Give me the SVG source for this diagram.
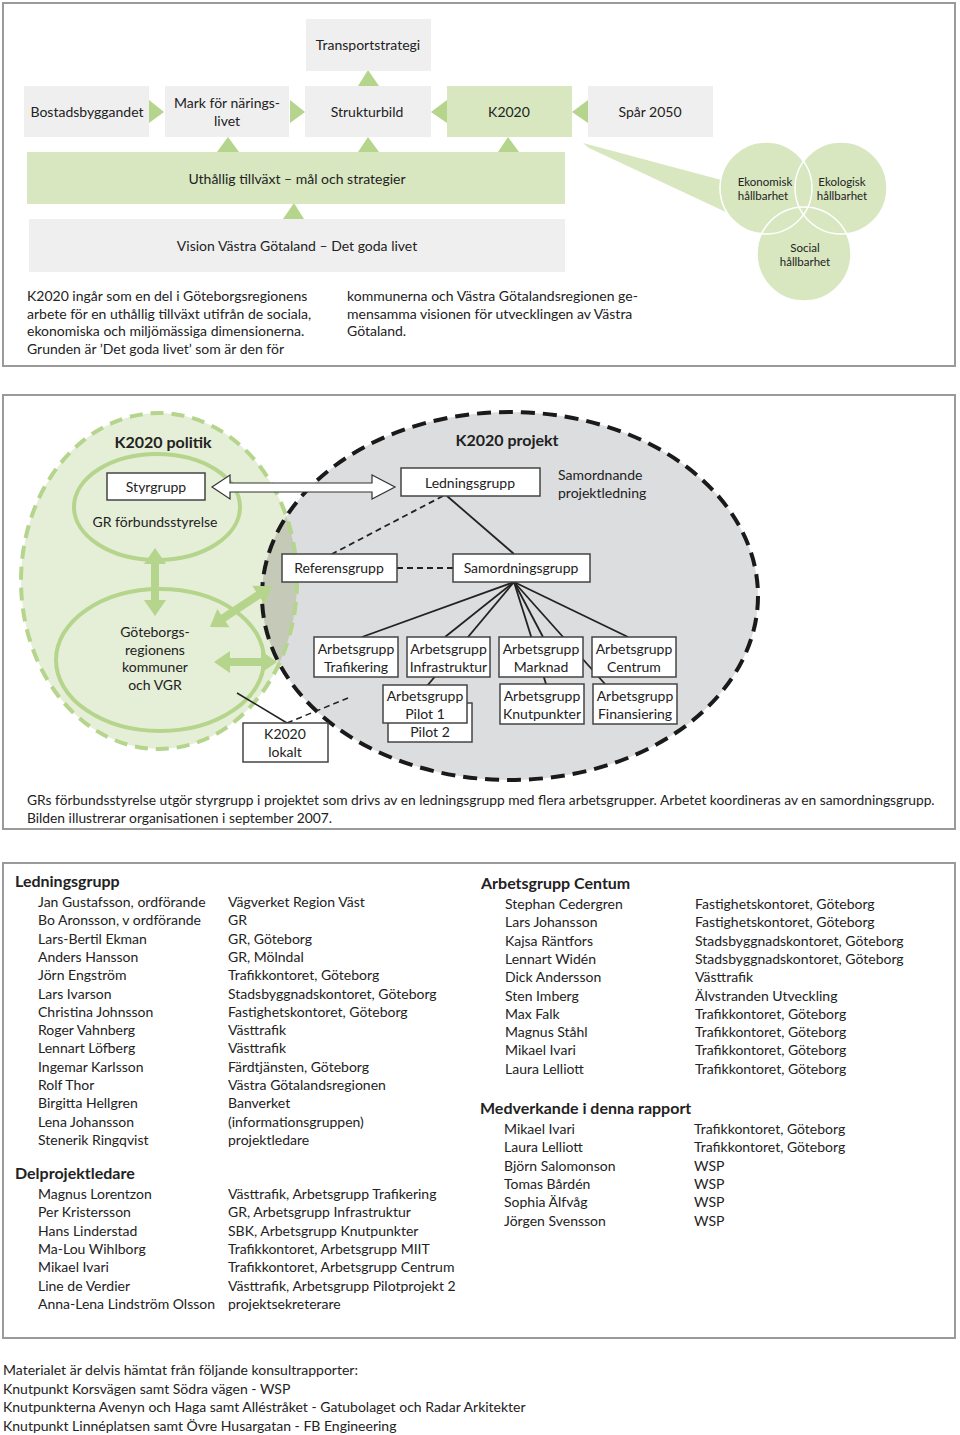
<svg xmlns="http://www.w3.org/2000/svg" width="960" height="1435" viewBox="0 0 960 1435">
<style>
text{font-family:Lato,"Open Sans","Liberation Sans",sans-serif;fill:#222;font-size:14px}
.c{text-anchor:middle}
.b{font-weight:bold;font-size:16px}
.s{font-size:14px}
.cap{font-size:13.8px}
.cs{font-size:11.5px;text-anchor:middle}
.frame{fill:#fff;stroke:#9a9a9a;stroke-width:2}
.gbox{fill:#efefef}
.lg{fill:#d8e7c0}
.tri{fill:#b5d48c}
.wb{fill:#fff;stroke:#444;stroke-width:1.5}
.ln{stroke:#222;stroke-width:1.8;fill:none}
.dl{stroke:#222;stroke-width:1.8;fill:none;stroke-dasharray:6 4}
.ga{fill:#b5d48c}
</style>
<defs>
<clipPath id="grayClip"><ellipse cx="510" cy="596" rx="248" ry="184"/></clipPath>
</defs>
<rect width="960" height="1435" fill="#fff"/>

<!-- ============ FRAME 1 ============ -->
<rect class="frame" x="3" y="3" width="952" height="363"/>

<g id="connectors-top">
<polygon class="tri" points="358,86 379,86 368,70"/>
<polygon class="tri" points="149,100 149,123 164,112"/>
<polygon class="tri" points="290,100 290,123 305,112"/>
<polygon class="tri" points="447,100 447,123 431,112"/>
<polygon class="tri" points="588,100 588,123 572,112"/>
<polygon class="tri" points="217,152 239,152 228,137"/>
<polygon class="tri" points="358,152 379,152 368,137"/>
<polygon class="tri" points="498,152 519,152 508,137"/>
<polygon class="tri" points="283,219 304,219 294,203"/>
<polygon class="lg" points="583,143 740,185 745,221 589,148"/>
</g>

<g id="transportstrategi"><rect class="gbox" x="306" y="19" width="125" height="52"/><text class="c" x="368" y="50">Transportstrategi</text></g>
<g id="bostadsbyggandet"><rect class="gbox" x="24" y="86" width="125" height="51"/><text class="c" x="87" y="117">Bostadsbyggandet</text></g>
<g id="mark"><rect class="gbox" x="165" y="86" width="124" height="51"/><text class="c" x="227" y="108">Mark för närings-</text><text class="c" x="227" y="126">livet</text></g>
<g id="strukturbild"><rect class="gbox" x="305" y="86" width="126" height="51"/><text class="c" x="367" y="117">Strukturbild</text></g>
<g id="k2020"><rect class="lg" x="447" y="86" width="125" height="51"/><text class="c" x="509" y="117">K2020</text></g>
<g id="spar2050"><rect class="gbox" x="588" y="86" width="125" height="51"/><text class="c" x="650" y="117">Spår 2050</text></g>
<g id="uthallig"><rect class="lg" x="27" y="152" width="538" height="52"/><text class="c" x="297" y="184">Uthållig tillväxt – mål och strategier</text></g>
<g id="vision"><rect class="gbox" x="29" y="219" width="536" height="53"/><text class="c" x="297" y="251">Vision Västra Götaland – Det goda livet</text></g>

<g id="hallbarhet">
<circle cx="766" cy="188" r="46" fill="#d8e7c0"/>
<circle cx="841" cy="188" r="46" fill="#d8e7c0"/>
<circle cx="804" cy="254" r="47" fill="#d8e7c0"/>
<circle cx="766" cy="188" r="46" fill="none" stroke="#fff" stroke-width="1.5"/>
<circle cx="841" cy="188" r="46" fill="none" stroke="#fff" stroke-width="1.5"/>
<circle cx="804" cy="254" r="47" fill="none" stroke="#fff" stroke-width="1.5"/>
<text class="cs" x="765" y="186">Ekonomisk</text><text class="cs" x="763" y="200">hållbarhet</text>
<text class="cs" x="842" y="186">Ekologisk</text><text class="cs" x="842" y="200">hållbarhet</text>
<text class="cs" x="805" y="252">Social</text><text class="cs" x="805" y="266">hållbarhet</text>
</g>

<g id="intro-text">
<text class="s" x="27" y="301">K2020 ingår som en del i Göteborgsregionens</text>
<text class="s" x="27" y="318.5">arbete för en uthållig tillväxt utifrån de sociala,</text>
<text class="s" x="27" y="336">ekonomiska  och miljömässiga dimensionerna.</text>
<text class="s" x="27" y="353.5">Grunden är ’Det goda livet’ som är den för</text>
<text class="s" x="347" y="301">kommunerna och Västra Götalandsregionen ge-</text>
<text class="s" x="347" y="318.5">mensamma visionen för utvecklingen av Västra</text>
<text class="s" x="347" y="336">Götaland.</text>
</g>

<!-- ============ FRAME 2 ============ -->
<rect class="frame" x="3" y="395" width="952" height="434"/>

<g id="areas">
<ellipse cx="159" cy="581" rx="138" ry="168" fill="#e5eed7"/>
<ellipse cx="510" cy="596" rx="248" ry="184" fill="#dcdddf"/>
<ellipse cx="159" cy="581" rx="138" ry="168" fill="#c4cab7" clip-path="url(#grayClip)"/>
<ellipse cx="159" cy="581" rx="138" ry="168" fill="none" stroke="#b5d48c" stroke-width="4" stroke-dasharray="13 8"/>
<ellipse cx="510" cy="596" rx="248" ry="184" fill="none" stroke="#1a1a1a" stroke-width="4" stroke-dasharray="14 8"/>
<ellipse cx="157" cy="507" rx="83" ry="53" fill="none" stroke="#b5d48c" stroke-width="4"/>
<ellipse cx="160" cy="660" rx="104" ry="71" fill="none" stroke="#b5d48c" stroke-width="4"/>
<text class="b c" x="163" y="448">K2020 politik</text>
<text class="b c" x="507" y="446">K2020 projekt</text>
<text class="c" x="155" y="527">GR förbundsstyrelse</text>
<text x="558" y="480">Samordnande</text>
<text x="558" y="498">projektledning</text>
<text class="c" x="155" y="637">Göteborgs-</text>
<text class="c" x="155" y="655">regionens</text>
<text class="c" x="155" y="672">kommuner</text>
<text class="c" x="155" y="690">och VGR</text>
</g>

<g id="connectors">
<polygon points="212,487 230,475 230,483 372,483 372,475 395,487 372,499 372,492 230,492 230,499" fill="#fff" stroke="#333" stroke-width="1.2"/>
<line class="dl" x1="443" y1="496" x2="332" y2="554"/>
<line class="ln" x1="447" y1="496" x2="514" y2="554"/>
<line class="dl" x1="397" y1="568" x2="453" y2="568"/>
<line class="ln" x1="514" y1="582" x2="362" y2="637"/>
<line class="ln" x1="514" y1="582" x2="445" y2="637"/>
<line class="ln" x1="514" y1="582" x2="427" y2="686"/>
<line class="ln" x1="514" y1="582" x2="543" y2="637"/>
<line class="ln" x1="514" y1="582" x2="546" y2="684"/>
<line class="ln" x1="514" y1="582" x2="605" y2="684"/>
<line class="ln" x1="514" y1="582" x2="628" y2="637"/>
<line x1="237" y1="693" x2="287" y2="723" stroke="#222" stroke-width="1.5"/>
<line x1="287" y1="723" x2="348" y2="698" stroke="#222" stroke-width="1.5" stroke-dasharray="6 4"/>
<polygon class="ga" points="155,548 166,564 159,564 159,600 166,600 155,616 144,600 151,600 151,564 144,564"/>
<polygon class="ga" points="214,662 230,651 230,658 261,658 261,651 277,662 261,673 261,666 230,666 230,673"/>
<polygon class="ga" transform="translate(210,627) rotate(-33.5)" points="0,0 16,-11 16,-4 58,-4 58,-11 74,0 58,11 58,4 16,4 16,11"/>
</g>

<g id="styrgrupp"><rect class="wb" x="107" y="473" width="98" height="27"/><text class="c" x="156" y="492">Styrgrupp</text></g>
<g id="ledningsgrupp"><rect class="wb" x="401" y="468" width="139" height="28"/><text class="c" x="470" y="488">Ledningsgrupp</text></g>
<g id="referensgrupp"><rect class="wb" x="282" y="554" width="115" height="28"/><text class="c" x="339" y="573">Referensgrupp</text></g>
<g id="samordningsgrupp"><rect class="wb" x="453" y="554" width="137" height="28"/><text class="c" x="521" y="573">Samordningsgrupp</text></g>
<g id="ag-trafikering"><rect class="wb" x="314" y="637" width="84" height="40"/><text class="c" x="356" y="654">Arbetsgrupp</text><text class="c" x="356" y="672">Trafikering</text></g>
<g id="ag-infrastruktur"><rect class="wb" x="407" y="637" width="83" height="40"/><text class="c" x="448.5" y="654">Arbetsgrupp</text><text class="c" x="448.5" y="672">Infrastruktur</text></g>
<g id="ag-marknad"><rect class="wb" x="499" y="637" width="84" height="40"/><text class="c" x="541" y="654">Arbetsgrupp</text><text class="c" x="541" y="672">Marknad</text></g>
<g id="ag-centrum"><rect class="wb" x="592" y="637" width="84" height="40"/><text class="c" x="634" y="654">Arbetsgrupp</text><text class="c" x="634" y="672">Centrum</text></g>
<g id="pilot2"><rect class="wb" x="388" y="703" width="84" height="39"/><text class="c" x="430" y="737">Pilot 2</text></g>
<g id="pilot1"><rect class="wb" x="383" y="685" width="84" height="38"/><text class="c" x="425" y="701">Arbetsgrupp</text><text class="c" x="425" y="719">Pilot 1</text></g>
<g id="ag-knutpunkter"><rect class="wb" x="500" y="684" width="84" height="40"/><text class="c" x="542" y="701">Arbetsgrupp</text><text class="c" x="542" y="719">Knutpunkter</text></g>
<g id="ag-finansiering"><rect class="wb" x="593" y="684" width="84" height="40"/><text class="c" x="635" y="701">Arbetsgrupp</text><text class="c" x="635" y="719">Finansiering</text></g>
<g id="k2020-lokalt"><rect class="wb" x="243" y="723" width="85" height="39"/><text class="c" x="285" y="739">K2020</text><text class="c" x="285" y="757">lokalt</text></g>

<g id="caption">
<text class="cap" x="27" y="805">GRs förbundsstyrelse utgör styrgrupp i projektet som drivs av en ledningsgrupp med flera arbetsgrupper. Arbetet koordineras av en samordningsgrupp.</text>
<text class="cap" x="27" y="822.5">Bilden illustrerar organisationen i september 2007.</text>
</g>

<!-- ============ FRAME 3 ============ -->
<rect class="frame" x="3" y="863" width="952" height="475"/>

<g id="lists">
<text class="b" x="15" y="887">Ledningsgrupp</text>
<text x="38" y="907">Jan Gustafsson, ordförande<tspan x="38" dy="18.3">Bo Aronsson, v ordförande</tspan><tspan x="38" dy="18.3">Lars-Bertil Ekman</tspan><tspan x="38" dy="18.3">Anders Hansson</tspan><tspan x="38" dy="18.3">Jörn Engström</tspan><tspan x="38" dy="18.3">Lars Ivarson</tspan><tspan x="38" dy="18.3">Christina Johnsson</tspan><tspan x="38" dy="18.3">Roger Vahnberg</tspan><tspan x="38" dy="18.3">Lennart Löfberg</tspan><tspan x="38" dy="18.3">Ingemar Karlsson</tspan><tspan x="38" dy="18.3">Rolf Thor</tspan><tspan x="38" dy="18.3">Birgitta Hellgren</tspan><tspan x="38" dy="18.3">Lena Johansson</tspan><tspan x="38" dy="18.3">Stenerik Ringqvist</tspan></text>
<text x="228" y="907">Vägverket Region Väst<tspan x="228" dy="18.3">GR</tspan><tspan x="228" dy="18.3">GR, Göteborg</tspan><tspan x="228" dy="18.3">GR, Mölndal</tspan><tspan x="228" dy="18.3">Trafikkontoret, Göteborg</tspan><tspan x="228" dy="18.3">Stadsbyggnadskontoret, Göteborg</tspan><tspan x="228" dy="18.3">Fastighetskontoret, Göteborg</tspan><tspan x="228" dy="18.3">Västtrafik</tspan><tspan x="228" dy="18.3">Västtrafik</tspan><tspan x="228" dy="18.3">Färdtjänsten, Göteborg</tspan><tspan x="228" dy="18.3">Västra Götalandsregionen</tspan><tspan x="228" dy="18.3">Banverket</tspan><tspan x="228" dy="18.3">(informationsgruppen)</tspan><tspan x="228" dy="18.3">projektledare</tspan></text>

<text class="b" x="15" y="1179">Delprojektledare</text>
<text x="38" y="1199">Magnus Lorentzon<tspan x="38" dy="18.3">Per Kristersson</tspan><tspan x="38" dy="18.3">Hans Linderstad</tspan><tspan x="38" dy="18.3">Ma-Lou Wihlborg</tspan><tspan x="38" dy="18.3">Mikael Ivari</tspan><tspan x="38" dy="18.3">Line de Verdier</tspan><tspan x="38" dy="18.3">Anna-Lena Lindström Olsson</tspan></text>
<text x="228" y="1199">Västtrafik, Arbetsgrupp Trafikering<tspan x="228" dy="18.3">GR, Arbetsgrupp Infrastruktur</tspan><tspan x="228" dy="18.3">SBK, Arbetsgrupp Knutpunkter</tspan><tspan x="228" dy="18.3">Trafikkontoret, Arbetsgrupp MIIT</tspan><tspan x="228" dy="18.3">Trafikkontoret, Arbetsgrupp Centrum</tspan><tspan x="228" dy="18.3">Västtrafik, Arbetsgrupp Pilotprojekt 2</tspan><tspan x="228" dy="18.3">projektsekreterare</tspan></text>

<text class="b" x="481" y="889">Arbetsgrupp Centum</text>
<text x="505" y="909">Stephan Cedergren<tspan x="505" dy="18.3">Lars Johansson</tspan><tspan x="505" dy="18.3">Kajsa Räntfors</tspan><tspan x="505" dy="18.3">Lennart Widén</tspan><tspan x="505" dy="18.3">Dick Andersson</tspan><tspan x="505" dy="18.3">Sten Imberg</tspan><tspan x="505" dy="18.3">Max Falk</tspan><tspan x="505" dy="18.3">Magnus Ståhl</tspan><tspan x="505" dy="18.3">Mikael Ivari</tspan><tspan x="505" dy="18.3">Laura Lelliott</tspan></text>
<text x="695" y="909">Fastighetskontoret, Göteborg<tspan x="695" dy="18.3">Fastighetskontoret, Göteborg</tspan><tspan x="695" dy="18.3">Stadsbyggnadskontoret, Göteborg</tspan><tspan x="695" dy="18.3">Stadsbyggnadskontoret, Göteborg</tspan><tspan x="695" dy="18.3">Västtrafik</tspan><tspan x="695" dy="18.3">Älvstranden Utveckling</tspan><tspan x="695" dy="18.3">Trafikkontoret, Göteborg</tspan><tspan x="695" dy="18.3">Trafikkontoret, Göteborg</tspan><tspan x="695" dy="18.3">Trafikkontoret, Göteborg</tspan><tspan x="695" dy="18.3">Trafikkontoret, Göteborg</tspan></text>

<text class="b" x="480" y="1114">Medverkande i denna rapport</text>
<text x="504" y="1134">Mikael Ivari<tspan x="504" dy="18.3">Laura Lelliott</tspan><tspan x="504" dy="18.3">Björn Salomonson</tspan><tspan x="504" dy="18.3">Tomas Bårdén</tspan><tspan x="504" dy="18.3">Sophia Älfvåg</tspan><tspan x="504" dy="18.3">Jörgen Svensson</tspan></text>
<text x="694" y="1134">Trafikkontoret, Göteborg<tspan x="694" dy="18.3">Trafikkontoret, Göteborg</tspan><tspan x="694" dy="18.3">WSP</tspan><tspan x="694" dy="18.3">WSP</tspan><tspan x="694" dy="18.3">WSP</tspan><tspan x="694" dy="18.3">WSP</tspan></text>
</g>

<g id="footer">
<text class="s" x="3" y="1375">Materialet är delvis hämtat från följande konsultrapporter:</text>
<text class="s" x="3" y="1393.5">Knutpunkt Korsvägen samt Södra vägen - WSP</text>
<text class="s" x="3" y="1412">Knutpunkterna Avenyn och Haga samt Alléstråket - Gatubolaget och Radar Arkitekter</text>
<text class="s" x="3" y="1430.5">Knutpunkt Linnéplatsen samt Övre Husargatan - FB Engineering</text>
</g>
</svg>
